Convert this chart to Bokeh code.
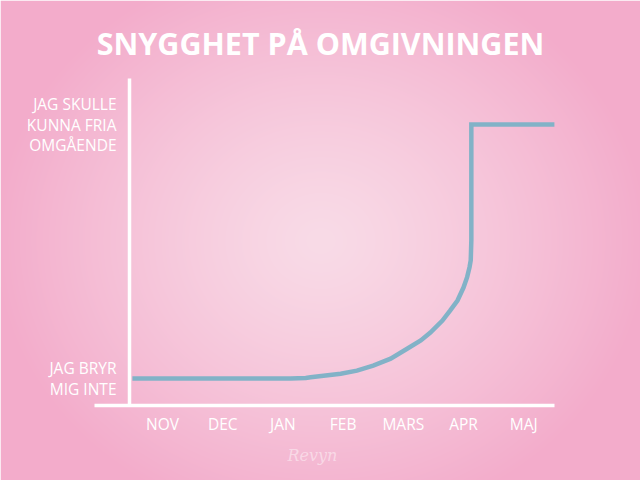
import numpy as np
from bokeh.plotting import figure
from bokeh.models import LinearAxis, FixedTicker, Label
from bokeh.embed import file_html
from bokeh.resources import INLINE

# data
months = ["NOV", "DEC", "JAN", "FEB", "MARS", "APR", "MAJ"]
month_pos = [0, 1, 2, 3, 4, 5, 6]
level_pos = [0, 1]
level_labels = ["JAG BRYR\nMIG INTE", "JAG SKULLE\nKUNNA FRIA\nOMGÅENDE"]
curve_x = [-0.50, 2.13, 2.38, 2.46, 2.96, 3.23, 3.50, 3.79, 4.07, 4.29, 4.45,
           4.65, 4.78, 4.90, 5.00, 5.06, 5.10, 5.12, 5.13, 5.13, 6.51]
curve_y = [0.0, 0.0, 0.002, 0.005, 0.019, 0.031, 0.051, 0.078, 0.118, 0.150, 0.181,
           0.228, 0.268, 0.307, 0.358, 0.399, 0.438, 0.465, 0.543, 1.0, 1.0]
title_text = "SNYGGHET PÅ OMGIVNINGEN"

W, H = 640, 480
x0, x1 = -2.691, 7.940
y0, y1 = -0.4016, 1.4882

p = figure(width=W, height=H, x_range=(x0, x1), y_range=(y0, y1),
           output_backend="svg", toolbar_location=None,
           x_axis_location=None, y_axis_location=None,
           min_border=0, outline_line_color=None)
p.grid.visible = False

# soft radial pink background
yy, xx = np.mgrid[0:H, 0:W]
yy = H - 1 - yy  # row 0 is the bottom
d = np.sqrt(((xx - 320) / 330.0) ** 2 + ((yy - 240) / 290.0) ** 2)
t = np.clip(d, 0, 1) ** 1.25
c_in = np.array([249, 219, 231])
c_out = np.array([243, 172, 203])
rgb = c_in[None, None, :] * (1 - t[..., None]) + c_out[None, None, :] * t[..., None]
img = np.empty((H, W), dtype=np.uint32)
v = img.view(dtype=np.uint8).reshape((H, W, 4))
v[..., 0] = rgb[..., 0]
v[..., 1] = rgb[..., 1]
v[..., 2] = rgb[..., 2]
v[..., 3] = 255
p.image_rgba(image=[img], x=x0, y=y0, dw=x1 - x0, dh=y1 - y0)

font = "Open Sans"

xaxis = LinearAxis(fixed_location=-0.1063, bounds=(-1.13, 6.512),
                   ticker=FixedTicker(ticks=month_pos),
                   major_label_overrides={i: m for i, m in zip(month_pos, months)})
yaxis = LinearAxis(fixed_location=-0.548, bounds=(-0.1063, 1.181),
                   ticker=FixedTicker(ticks=level_pos),
                   major_label_overrides={i: s for i, s in zip(level_pos, level_labels)})
for ax in (xaxis, yaxis):
    ax.axis_line_color = "white"
    ax.axis_line_width = 3.5
    ax.major_tick_line_color = None
    ax.minor_tick_line_color = None
    ax.major_label_text_color = "white"
    ax.major_label_text_font = font
    ax.major_label_text_font_size = "15.5px"
xaxis.major_label_standoff = 2
yaxis.major_label_standoff = 7
yaxis.major_label_text_line_height = 0.95
p.add_layout(xaxis, "below")
p.add_layout(yaxis, "left")

p.line(curve_x, curve_y, line_color="#82b2c7", line_width=4.5, line_join="miter")

p.add_layout(Label(x=2.625, y=1.319, text=title_text, text_align="center",
                   text_baseline="middle", text_color="white", text_font=font,
                   text_font_style="bold", text_font_size="30.5px"))
p.add_layout(Label(x=2.49, y=-0.303, text="Revyn", text_align="center",
                   text_baseline="middle", text_color="white", text_alpha=0.45,
                   text_font="DejaVu Serif", text_font_style="italic",
                   text_font_size="16px"))

open("out.html", "w").write(file_html(p, INLINE))
